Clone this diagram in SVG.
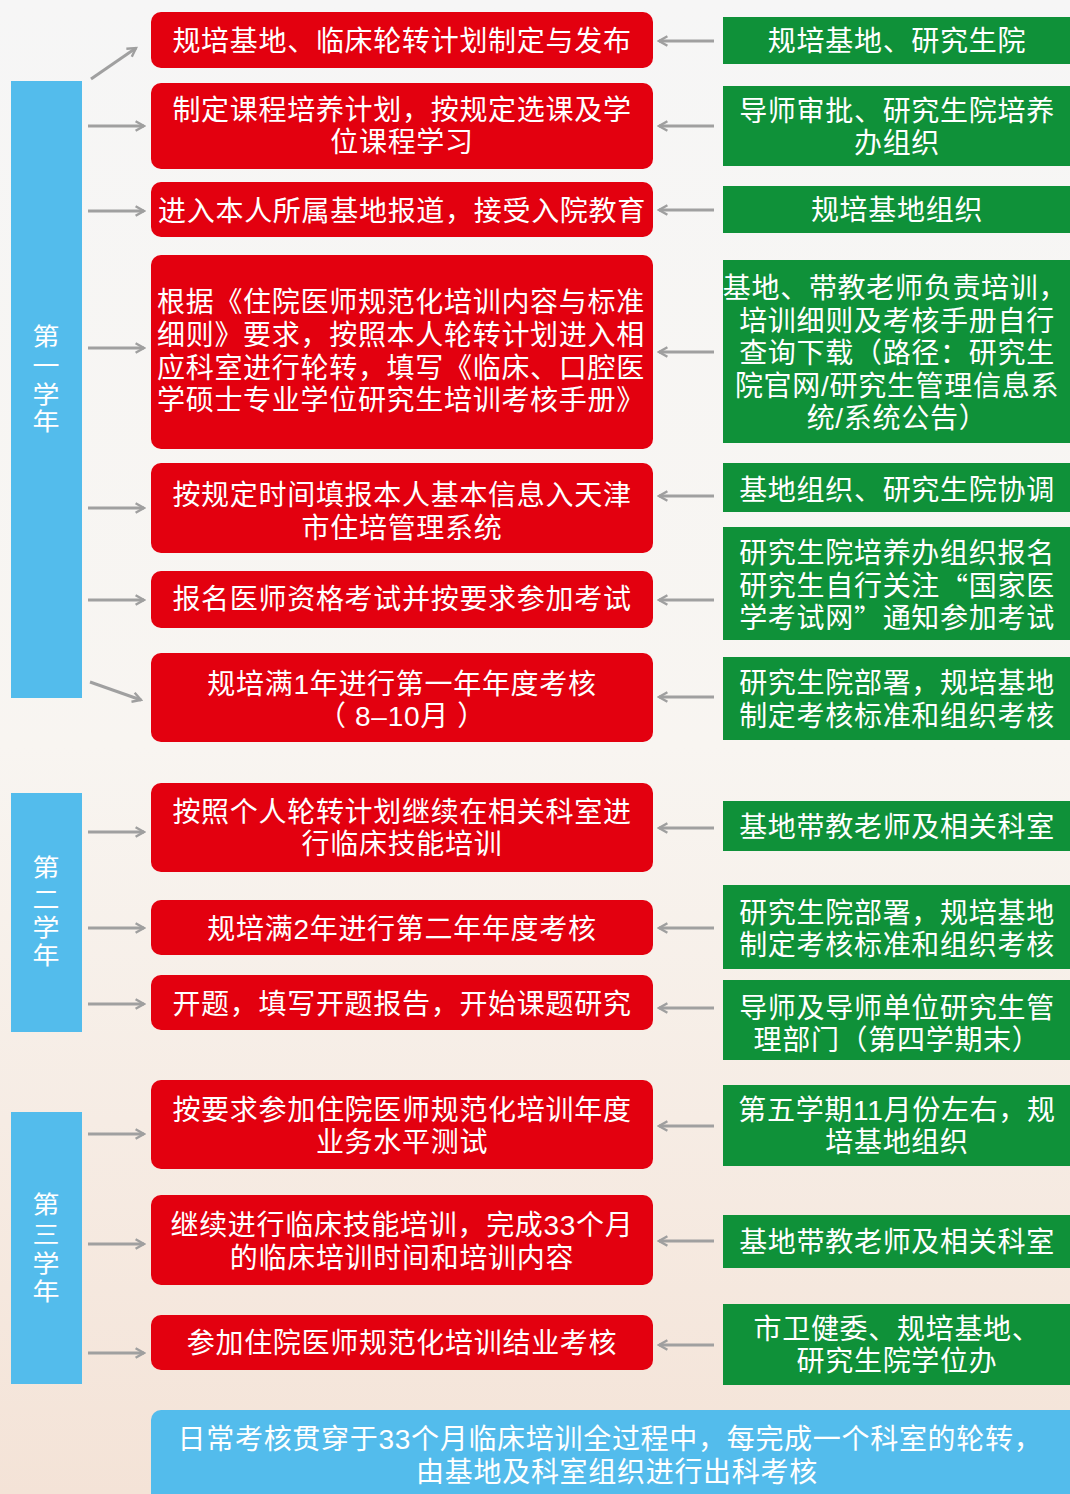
<svg xmlns="http://www.w3.org/2000/svg" width="1070" height="1494" viewBox="0 0 1070 1494">
<defs>
<linearGradient id="bg" x1="0" y1="0" x2="0" y2="1">
<stop offset="0" stop-color="#f6f6f6"/>
<stop offset="0.5" stop-color="#f8f5f1"/>
<stop offset="1" stop-color="#f4e3d7"/>
</linearGradient>
<marker id="ah" viewBox="0 0 10 10" refX="8" refY="5" markerWidth="4" markerHeight="4" orient="auto" markerUnits="strokeWidth">
<path d="M1,1 L8,5 L1,9" fill="none" stroke="#9f9f9f" stroke-width="2"/>
</marker>
<style>
.red{fill:#e3000f}
.green{fill:#0f9139}
.blue{fill:#53bcec}
.t{font-family:"Liberation Sans","Noto Sans CJK SC",sans-serif;font-size:28px;fill:#ffffff;text-anchor:middle;dominant-baseline:central;letter-spacing:0.7px;transform:translateY(1.5px)}
.tl{text-anchor:start}
.q{font-family:"Noto Sans CJK SC",sans-serif}
.yr{font-family:"Liberation Sans","Noto Sans CJK SC",sans-serif;font-size:27px;fill:#ffffff;text-anchor:middle;dominant-baseline:central}
.c{stroke:#a0a0a0;stroke-width:3;fill:none;marker-end:url(#ah)}
</style>
</defs>
<rect width="1070" height="1494" fill="url(#bg)"/>

<g id="year1"><rect class="blue" x="11" y="81" width="71" height="617"/>
<text class="yr" transform="translate(46,336) scale(1,0.9)">第</text>
<text class="yr" transform="translate(46,365) scale(1,0.9)">一</text>
<text class="yr" transform="translate(46,394) scale(1,0.9)">学</text>
<text class="yr" transform="translate(46,421) scale(1,0.9)">年</text></g>
<g id="year2"><rect class="blue" x="11" y="793" width="71" height="239"/>
<text class="yr" transform="translate(46,867) scale(1,0.9)">第</text>
<text class="yr" transform="translate(46,899) scale(1,0.9)">二</text>
<text class="yr" transform="translate(46,927) scale(1,0.9)">学</text>
<text class="yr" transform="translate(46,955) scale(1,0.9)">年</text></g>
<g id="year3"><rect class="blue" x="11" y="1112" width="71" height="272"/>
<text class="yr" transform="translate(46,1204) scale(1,0.9)">第</text>
<text class="yr" transform="translate(46,1234) scale(1,0.9)">三</text>
<text class="yr" transform="translate(46,1263) scale(1,0.9)">学</text>
<text class="yr" transform="translate(46,1291) scale(1,0.9)">年</text></g>

<g id="r1"><rect class="red" x="151" y="12" width="502" height="56" rx="10"/><text class="t" x="402" y="40">规培基地、临床轮转计划制定与发布</text></g>
<g id="r2"><rect class="red" x="151" y="83" width="502" height="86" rx="10"/><text class="t"><tspan x="402" y="108">制定课程培养计划，按规定选课及学</tspan><tspan x="402" y="140">位课程学习</tspan></text></g>
<g id="r3"><rect class="red" x="151" y="182" width="502" height="55" rx="10"/><text class="t" x="402" y="210">进入本人所属基地报道，接受入院教育</text></g>
<g id="r4"><rect class="red" x="151" y="255" width="502" height="194" rx="10"/><text class="t tl"><tspan x="157" y="300">根据《住院医师规范化培训内容与标准</tspan><tspan x="157" y="333">细则》要求，按照本人轮转计划进入相</tspan><tspan x="157" y="366">应科室进行轮转，填写《临床、口腔医</tspan><tspan x="157" y="398">学硕士专业学位研究生培训考核手册》</tspan></text></g>
<g id="r5"><rect class="red" x="151" y="463" width="502" height="90" rx="10"/><text class="t"><tspan x="402" y="493">按规定时间填报本人基本信息入天津</tspan><tspan x="402" y="526">市住培管理系统</tspan></text></g>
<g id="r6"><rect class="red" x="151" y="571" width="502" height="57" rx="10"/><text class="t" x="402" y="598">报名医师资格考试并按要求参加考试</text></g>
<g id="r7"><rect class="red" x="151" y="653" width="502" height="89" rx="10"/><text class="t"><tspan x="402" y="682">规培满1年进行第一年年度考核</tspan><tspan x="402" y="714">（ 8–10月 ）</tspan></text></g>
<g id="r8"><rect class="red" x="151" y="783" width="502" height="89" rx="10"/><text class="t"><tspan x="402" y="810">按照个人轮转计划继续在相关科室进</tspan><tspan x="402" y="842">行临床技能培训</tspan></text></g>
<g id="r9"><rect class="red" x="151" y="900" width="502" height="55" rx="10"/><text class="t" x="402" y="928">规培满2年进行第二年年度考核</text></g>
<g id="r10"><rect class="red" x="151" y="975" width="502" height="55" rx="10"/><text class="t" x="402" y="1003">开题，填写开题报告，开始课题研究</text></g>
<g id="r11"><rect class="red" x="151" y="1080" width="502" height="89" rx="10"/><text class="t"><tspan x="402" y="1108">按要求参加住院医师规范化培训年度</tspan><tspan x="402" y="1140">业务水平测试</tspan></text></g>
<g id="r12"><rect class="red" x="151" y="1195" width="502" height="90" rx="10"/><text class="t"><tspan x="402" y="1223">继续进行临床技能培训，完成33个月</tspan><tspan x="402" y="1256">的临床培训时间和培训内容</tspan></text></g>
<g id="r13"><rect class="red" x="151" y="1315" width="502" height="55" rx="10"/><text class="t" x="402" y="1342">参加住院医师规范化培训结业考核</text></g>

<g id="g1"><rect class="green" x="723" y="17" width="347" height="47"/><text class="t" x="897" y="40">规培基地、研究生院</text></g>
<g id="g2"><rect class="green" x="723" y="86" width="347" height="80"/><text class="t"><tspan x="897" y="109">导师审批、研究生院培养</tspan><tspan x="897" y="141">办组织</tspan></text></g>
<g id="g3"><rect class="green" x="723" y="186" width="347" height="47"/><text class="t" x="897" y="209">规培基地组织</text></g>
<g id="g4"><rect class="green" x="723" y="260" width="347" height="183"/><text class="t"><tspan x="895" y="286">基地、带教老师负责培训，</tspan><tspan x="897" y="319">培训细则及考核手册自行</tspan><tspan x="897" y="351">查询下载（路径：研究生</tspan><tspan x="897" y="384">院官网/研究生管理信息系</tspan><tspan x="897" y="416">统/系统公告）</tspan></text></g>
<g id="g5"><rect class="green" x="723" y="463" width="347" height="49"/><text class="t" x="897" y="489">基地组织、研究生院协调</text></g>
<g id="g6"><rect class="green" x="723" y="527" width="347" height="113"/><text class="t"><tspan x="897" y="551">研究生院培养办组织报名</tspan><tspan x="897" y="584">研究生自行关注<tspan class="q">“</tspan>国家医</tspan><tspan x="897" y="616">学考试网<tspan class="q">”</tspan>通知参加考试</tspan></text></g>
<g id="g7"><rect class="green" x="723" y="657" width="347" height="83"/><text class="t"><tspan x="897" y="681">研究生院部署，规培基地</tspan><tspan x="897" y="714">制定考核标准和组织考核</tspan></text></g>
<g id="g8"><rect class="green" x="723" y="801" width="347" height="50"/><text class="t" x="897" y="826">基地带教老师及相关科室</text></g>
<g id="g9"><rect class="green" x="723" y="885" width="347" height="84"/><text class="t"><tspan x="897" y="911">研究生院部署，规培基地</tspan><tspan x="897" y="943">制定考核标准和组织考核</tspan></text></g>
<g id="g10"><rect class="green" x="723" y="980" width="347" height="80"/><text class="t"><tspan x="897" y="1006">导师及导师单位研究生管</tspan><tspan x="897" y="1038">理部门（第四学期末）</tspan></text></g>
<g id="g11"><rect class="green" x="723" y="1085" width="347" height="81"/><text class="t"><tspan x="897" y="1108">第五学期11月份左右，规</tspan><tspan x="897" y="1140">培基地组织</tspan></text></g>
<g id="g12"><rect class="green" x="723" y="1215" width="347" height="53"/><text class="t" x="897" y="1241">基地带教老师及相关科室</text></g>
<g id="g13"><rect class="green" x="723" y="1304" width="347" height="81"/><text class="t"><tspan x="897" y="1327">市卫健委、规培基地、</tspan><tspan x="897" y="1359">研究生院学位办</tspan></text></g>

<g id="note"><rect class="blue" x="151" y="1410" width="930" height="100" rx="10"/><text class="t"><tspan x="610" y="1437">日常考核贯穿于33个月临床培训全过程中，每完成一个科室的轮转，</tspan><tspan x="617" y="1470">由基地及科室组织进行出科考核</tspan></text></g>

<g id="connectors">
<line class="c" x1="91" y1="79" x2="136" y2="48"/>
<line class="c" x1="88" y1="126" x2="144" y2="126"/>
<line class="c" x1="88" y1="211" x2="144" y2="211"/>
<line class="c" x1="88" y1="348" x2="144" y2="348"/>
<line class="c" x1="88" y1="508" x2="144" y2="508"/>
<line class="c" x1="88" y1="600" x2="144" y2="600"/>
<line class="c" x1="90" y1="682" x2="141" y2="700"/>
<line class="c" x1="88" y1="832" x2="144" y2="832"/>
<line class="c" x1="88" y1="928" x2="144" y2="928"/>
<line class="c" x1="88" y1="1004" x2="144" y2="1004"/>
<line class="c" x1="88" y1="1134" x2="144" y2="1134"/>
<line class="c" x1="88" y1="1244" x2="144" y2="1244"/>
<line class="c" x1="88" y1="1353" x2="144" y2="1353"/>
<line class="c" x1="714" y1="41" x2="659" y2="41"/>
<line class="c" x1="714" y1="126" x2="659" y2="126"/>
<line class="c" x1="714" y1="210" x2="659" y2="210"/>
<line class="c" x1="714" y1="352" x2="659" y2="352"/>
<line class="c" x1="714" y1="496" x2="659" y2="496"/>
<line class="c" x1="714" y1="600" x2="659" y2="600"/>
<line class="c" x1="714" y1="697" x2="659" y2="697"/>
<line class="c" x1="714" y1="828" x2="659" y2="828"/>
<line class="c" x1="714" y1="928" x2="659" y2="928"/>
<line class="c" x1="714" y1="1008" x2="659" y2="1008"/>
<line class="c" x1="714" y1="1126" x2="659" y2="1126"/>
<line class="c" x1="714" y1="1241" x2="659" y2="1241"/>
<line class="c" x1="714" y1="1345" x2="659" y2="1345"/>
</g>
</svg>
